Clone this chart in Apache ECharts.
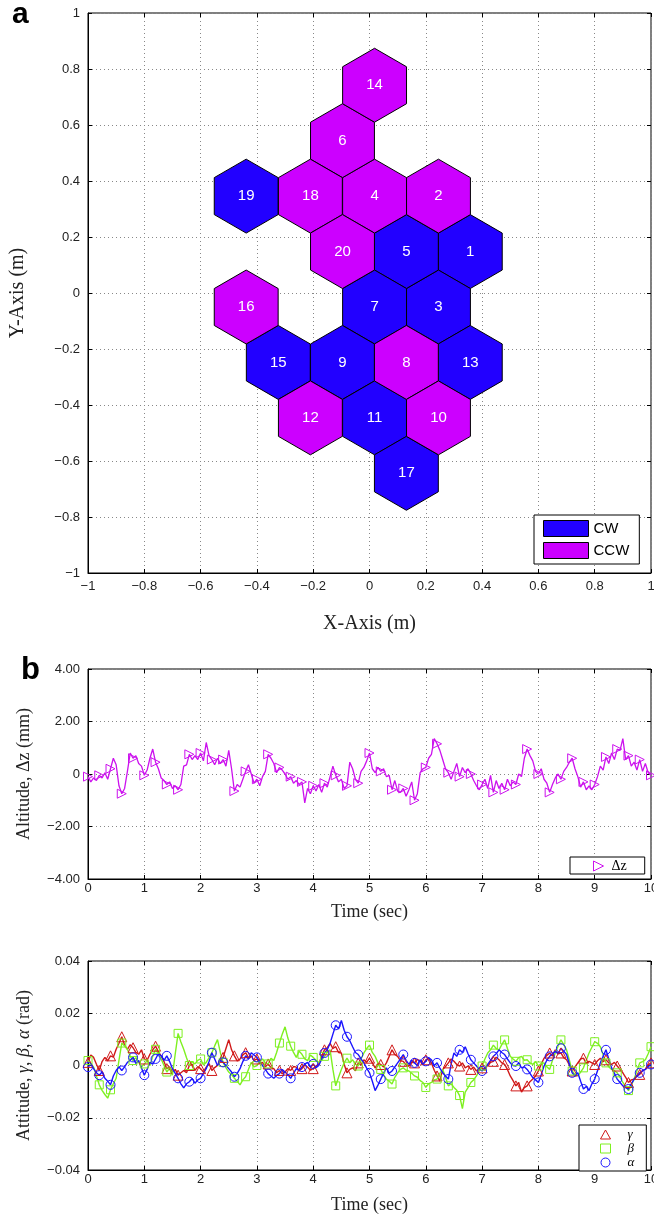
<!DOCTYPE html>
<html>
<head>
<meta charset="utf-8">
<title>Rotor layout, altitude and attitude</title>
<script src="https://cdn.jsdelivr.net/npm/echarts@6/dist/echarts.min.js"></script>
<style>
  html, body { margin: 0; padding: 0; background: #fff; }
  #chart { width: 654px; height: 1215px; }
</style>
</head>
<body>
<div id="chart"></div>
<script>
// Panel a: hexagon centres (m) and spin direction
var hexId  = [1, 2, 3, 4, 5, 6, 7, 8, 9, 10, 11, 12, 13, 14, 15, 16, 17, 18, 19, 20];
var hexX   = [0.358, 0.245, 0.245, 0.018, 0.131, -0.096, 0.018, 0.131, -0.096, 0.245,
              0.018, -0.210, 0.358, 0.018, -0.324, -0.438, 0.131, -0.210, -0.438, -0.096];
var hexY   = [0.148, 0.346, -0.050, 0.346, 0.148, 0.544, -0.050, -0.248, -0.248, -0.446,
              -0.446, -0.446, -0.248, 0.742, -0.248, -0.050, -0.644, 0.346, 0.346, 0.148];
var hexDir = ['CW', 'CCW', 'CW', 'CCW', 'CW', 'CCW', 'CW', 'CCW', 'CW', 'CCW',
              'CW', 'CCW', 'CW', 'CCW', 'CW', 'CCW', 'CW', 'CCW', 'CW', 'CCW'];
var hexRadius = 0.132;   // centre to top vertex (m)
var hexApothem = 0.1135; // centre to flat side (m)

// Panel b/c: samples every 0.05 s from 0 to 10 s
var sampleStep = 0.05;
// altitude error (mm)
var dz = [
  -0.10, -0.30, -0.15, -0.25, -0.05, -0.15, 0.05, -0.20, 0.20, 0.60, 0.35, -0.45, -0.75, -0.55, 0.10, 0.80, 0.60, 0.70, 0.40, 0.30,
  -0.05, 0.15, 0.60, 0.95, 0.45, 0.20, -0.15, -0.25, -0.40, -0.30, -0.55, -0.45, -0.60, -0.40, 0.30, 0.35, 0.75, 0.55, 0.70, 0.55,
  0.80, 0.50, 1.20, 0.70, 0.55, 0.35, 0.60, 0.40, 0.55, 0.30, 0.90, 0.20, -0.65, -0.40, -0.50, -0.20, 0.10, 0.35, 0.00, -0.35,
  -0.20, -0.45, -0.10, 0.10, 0.75, 0.60, 0.40, 0.05, 0.25, 0.15, 0.00, -0.20, -0.10, -0.35, -0.25, -0.40, -0.30, -1.10, -0.55, -0.75,
  -0.45, -0.65, -0.40, -0.70, -0.35, -0.50, -0.10, 0.30, -0.05, -0.30, -0.20, -0.55, -0.45, 0.45, 0.20, -0.20, -0.35, 0.10, 0.25, 0.50,
  0.80, 0.20, 0.05, 0.25, 0.10, 0.20, -0.10, -0.05, -0.60, -0.25, -0.65, -0.70, -0.55, -0.85, -0.60, -0.30, -1.00, -0.75, 0.05, 0.20,
  0.25, 0.60, 0.75, 1.35, 1.15, 0.90, 0.55, 0.20, 0.05, -0.20, 0.10, 0.40, -0.10, 0.25, 0.05, 0.20, 0.00, -0.25, -0.45, -0.60,
  -0.40, -0.20, -0.55, -0.05, -0.70, -0.25, -0.55, -0.35, -0.60, -0.20, -0.45, -0.30, -0.40, 0.00, -0.10, 0.60, 0.95, 0.70, 0.50, 0.10,
  0.00, 0.20, -0.20, -0.35, -0.70, -0.40, -0.15, 0.00, -0.20, 0.10, 0.25, 0.45, 0.60, 0.20, -0.10, -0.50, -0.30, -0.60, -0.45, -0.60,
  -0.40, -0.10, 0.30, 0.15, 0.65, 0.40, 0.80, 0.55, 0.95, 0.90, 1.35, 0.55, 0.70, 0.30, 0.45, 0.15, 0.55, 0.10, 0.40, 0.05,
  -0.05
];
// attitude angles, in 1e-3 rad
var gamma = [
  1.2, 4.0, 3.1, 0.5, -1.9, 1.5, 3.1, 1.8, 3.7, 3.2, 6.2, 8.5, 11.0, 7.8, 6.2, 8.0, 6.8, 5.0, 4.3, 6.0,
  2.5, 2.0, 4.3, 6.0, 7.4, 5.2, 3.7, 1.5, -1.2, -0.5, -2.5, -1.5, -3.7, -2.8, -1.9, -2.8, 0.0, 0.5, -1.9, -0.4,
  -1.2, -2.5, -0.6, 0.8, -1.9, -0.8, 0.0, 1.8, 3.1, 6.5, 9.9, 6.0, 3.7, 1.8, 2.5, 4.0, 4.9, 3.0, 3.7, 1.9,
  2.5, 0.8, 1.2, -0.5, 0.6, -0.8, -1.2, -2.8, -1.9, -3.2, -2.5, -1.2, -1.9, -0.4, -0.6, -2.0, -1.2, 0.2, -0.6, -1.8,
  -1.2, -0.2, 0.6, 3.5, 6.0, 6.8, 8.5, 6.5, 7.2, 5.0, 4.8, 0.5, -2.8, -1.5, -0.9, -2.0, 1.0, 0.2, 2.2, 1.2,
  2.8, 1.0, -0.9, 0.8, 0.4, -0.6, 1.0, 3.5, 6.0, 4.2, 3.5, 1.8, 1.6, 0.2, -0.2, 1.4, 1.0, 2.4, 1.6, 0.4,
  2.2, 2.8, 1.0, -1.8, -4.0, -6.0, -1.5, -0.4, 1.0, 2.5, 1.6, 0.4, -0.2, 1.0, -0.9, -0.2, -1.5, -0.6, -2.1, -1.2,
  -0.9, -1.8, 0.4, 1.2, 1.6, 3.2, 2.2, 1.0, 0.4, -1.5, -4.0, -5.8, -7.8, -6.5, -10.2, -8.5, -7.8, -6.2, -5.2, -4.0,
  -2.1, 0.5, 2.8, 3.8, 4.8, 3.6, 6.0, 4.5, 4.8, 3.0, 2.2, 0.2, -2.1, -0.5, 1.0, 2.5, 2.8, 0.8, 1.6, 1.0,
  0.4, 1.8, 2.8, 1.5, 2.2, 1.0, 0.4, 1.2, -0.2, -1.5, -2.8, -4.5, -6.5, -5.5, -5.2, -4.0, -3.4, -2.0, -1.5, 0.2,
  1.0
];
var beta = [
  1.9, 0.8, -0.6, -4.0, -7.4, -9.5, -11.1, -12.5, -9.3, -7.0, -4.9, 2.0, 8.6, 7.5, 6.2, 3.5, 1.9, 3.0, 1.2, -0.5,
  0.6, 1.8, 0.0, 3.5, 6.2, 4.5, 2.5, 0.0, -2.5, -1.0, -3.7, 4.5, 12.3, 9.0, 6.2, 3.0, 0.0, 1.5, 0.6, 2.0,
  2.5, 0.2, 1.2, 3.0, 4.9, 7.5, 9.9, 5.0, 1.2, -0.8, -2.5, -3.5, -4.9, -6.0, -7.4, -5.5, -4.3, -1.5, 1.2, -0.5,
  0.0, 1.5, 2.5, 1.0, 0.6, 2.8, 1.9, 5.0, 8.6, 12.0, 14.8, 10.5, 7.4, 5.0, 3.1, 5.5, 4.3, 2.5, 1.9, 4.0,
  3.1, 2.0, 1.2, 2.0, 3.5, 5.0, 6.0, -1.5, -7.8, -4.5, -1.5, 1.0, 2.8, 1.0, 2.2, 0.5, -0.2, 2.5, 4.8, 6.5,
  7.8, 5.0, 3.5, 1.0, -1.5, -3.5, -5.2, -6.0, -7.1, -4.5, -2.8, -1.5, -0.9, -1.8, -2.1, -3.0, -4.0, -4.5, -5.8, -6.5,
  -8.4, -7.0, -6.5, -5.5, -5.2, -3.0, -1.5, -4.5, -7.8, -7.0, -8.4, -9.5, -11.5, -16.5, -10.2, -8.5, -6.5, -5.5, -4.0, -2.0,
  -0.2, 2.5, 4.8, 6.0, 7.8, 6.5, 6.0, 8.0, 9.8, 6.5, 3.5, 2.5, 1.6, 3.0, 3.5, 2.0, 2.2, 1.0, 0.4, 1.5,
  -0.2, 0.8, 1.0, -0.5, -1.5, 2.0, 4.8, 7.5, 9.8, 8.0, 6.0, 2.0, -2.1, -3.5, -4.0, -2.5, -0.9, 2.0, 4.8, 7.0,
  9.1, 8.5, 7.2, 4.0, 1.0, -0.5, -1.5, -2.0, -2.8, -4.5, -6.5, -8.0, -9.6, -7.5, -5.2, -2.0, 1.0, 1.5, 2.2, 4.5,
  7.2
];
var alpha = [
  -0.6, 0.5, -1.2, -2.8, -3.7, -2.5, -4.9, -6.0, -7.4, -4.0, -1.9, -0.5, -1.9, -0.5, 1.2, 2.0, 3.1, 0.8, 1.9, -1.0,
  -3.7, -1.5, 1.2, 0.5, 2.5, 4.5, 3.7, 2.0, 3.7, 1.5, -1.2, -3.0, -4.9, -7.0, -8.6, -7.0, -6.2, -5.0, -6.8, -5.5,
  -4.9, -3.0, -1.2, 1.5, 4.9, 2.5, 0.0, 2.0, 1.2, 0.0, -1.2, -2.5, -4.3, -3.0, -1.2, 1.5, 3.7, 2.5, 4.9, 4.0,
  3.1, 1.5, 0.0, -1.5, -3.1, -4.0, -4.9, -3.8, -3.1, -1.5, -2.5, -3.5, -4.9, -3.0, -1.2, -2.0, -0.6, 0.5, 1.2, -0.5,
  0.6, -0.8, 0.0, 2.5, 4.8, 6.0, 8.5, 12.0, 15.4, 14.0, 17.2, 13.5, 11.0, 9.5, 7.2, 5.0, 4.2, 2.5, 1.0, -1.0,
  -2.8, -6.0, -9.6, -7.5, -5.2, -3.0, -0.9, -3.0, -2.1, -0.5, 1.0, 2.5, 4.2, 2.0, 0.4, 2.0, 1.0, 0.0, 2.2, 0.5,
  1.6, 3.0, 2.2, 0.0, 1.0, -1.0, -2.8, -4.0, -5.2, 0.5, 4.8, 3.5, 6.0, 5.0, 7.2, 4.5, 2.2, 1.0, -0.2, -1.5,
  -2.1, -1.0, 0.4, 2.0, 3.5, 4.5, 6.0, 5.0, 4.2, 2.5, 1.0, 0.0, -0.2, 1.0, -0.9, -0.5, -1.5, -3.0, -4.6, -5.5,
  -6.5, -3.5, -0.2, 2.0, 3.5, 4.5, 5.4, 4.5, 6.6, 5.5, 4.2, 0.5, -2.8, -4.0, -2.8, -6.0, -9.0, -8.0, -9.6, -7.0,
  -5.2, -2.0, 1.0, 3.5, 6.0, 2.5, -0.9, -3.0, -5.2, -6.5, -7.8, -8.5, -9.0, -7.0, -5.2, -4.0, -2.8, -2.0, -1.5, -0.5,
  0.4
];

var blueCW = '#2200ff', magentaCCW = '#cc00ff';
var dzColor = '#cc11ee', gammaColor = '#d01818', betaColor = '#7ef020', alphaColor = '#1a14ff';
var sans = '"Liberation Sans", Arial, sans-serif';
var serif = '"Liberation Serif", "Times New Roman", serif';

function pairs(values, scale) {
    return values.map(function (v, i) { return [+(i * sampleStep).toFixed(2), v * scale]; });
}
function every4(type) {
    return function (v, p) { return p.dataIndex % 4 === 0 ? type : 'none'; };
}
function minus(s) { return String(s).replace('-', '\u2212'); }
function hollow(color) { return { color: 'transparent', borderColor: color, borderWidth: 1 }; }

function hexSeries(dir, color) {
    var data = [];
    hexId.forEach(function (id, i) {
        if (hexDir[i] === dir) data.push([hexX[i], hexY[i], id]);
    });
    var corners = [[0, hexRadius], [hexApothem, hexRadius / 2], [hexApothem, -hexRadius / 2],
                   [0, -hexRadius], [-hexApothem, -hexRadius / 2], [-hexApothem, hexRadius / 2]];
    return {
        name: dir, type: 'custom', xAxisIndex: 0, yAxisIndex: 0,
        encode: { x: 0, y: 1 },
        itemStyle: { color: color, borderColor: '#000', borderWidth: 1 },
        data: data,
        renderItem: function (params, api) {
            var cx = api.value(0), cy = api.value(1);
            var pts = corners.map(function (c) { return api.coord([cx + c[0], cy + c[1]]); });
            var ctr = api.coord([cx, cy]);
            return { type: 'group', children: [
                { type: 'polygon', shape: { points: pts }, style: { fill: color, stroke: '#000', lineWidth: 1 } },
                { type: 'text', x: ctr[0], y: ctr[1], style: { text: String(api.value(2)), fill: '#fff',
                  font: '15px ' + sans, align: 'center', verticalAlign: 'middle' } }
            ]};
        }
    };
}

var tickStyle = { show: true, inside: true, length: 4, lineStyle: { color: '#000' } };
var lineBlack = { show: true, onZero: false, lineStyle: { color: '#000', width: 1 } };
var dotted = { show: true, lineStyle: { color: '#888', type: [1, 3], width: 1 } };
var lbl = { color: '#222', fontSize: 13, fontFamily: sans };

function mainAxis(grid, min, max, step, fmt, margin, extra) {
    var a = { type: 'value', gridIndex: grid, min: min, max: max, interval: step,
        axisLine: lineBlack, axisTick: tickStyle, splitLine: dotted,
        axisLabel: Object.assign({ formatter: fmt, margin: margin }, lbl) };
    return Object.assign(a, extra || {});
}
function mirrorAxis(grid, min, max, step, pos) {
    return { type: 'value', gridIndex: grid, min: min, max: max, interval: step, position: pos,
        axisLine: { show: false, onZero: false }, axisTick: tickStyle, splitLine: { show: false }, axisLabel: { show: false } };
}
var fmtA = function (v) { return minus(parseFloat(v.toFixed(1))); };
var fmtInt = function (v) { return String(Math.round(v)); };
var fmtB = function (v) { return v === 0 ? '0' : minus(v.toFixed(2)); };
var fmtC = function (v) { return Math.abs(v) < 1e-9 ? '0' : minus(v.toFixed(2)); };
var nameStyle = function (size) { return { fontFamily: serif, fontSize: size, color: '#222' }; };
function plotGrid(top, height) {
    return { left: 88, top: top, width: 563, height: height, show: true, borderColor: '#000', borderWidth: 1,
             outerBoundsMode: 'none', containLabel: false };
}
function lineSeries(name, axis, values, scale, marker, size, color, width, rotate) {
    return { name: name, type: 'line', xAxisIndex: axis, yAxisIndex: axis, data: pairs(values, scale),
        symbol: every4(marker), symbolSize: size, symbolRotate: rotate || 0,
        lineStyle: { color: color, width: width }, itemStyle: hollow(color) };
}

var chart = echarts.init(document.getElementById('chart'));
var option = {
    animation: false,
    backgroundColor: '#fff',
    grid: [plotGrid(13, 560), plotGrid(669, 210), plotGrid(961, 209)],
    xAxis: [
        mainAxis(0, -1, 1, 0.2, fmtA, 7, { name: 'X-Axis (m)', nameLocation: 'middle', nameGap: 41, nameTextStyle: nameStyle(20) }),
        mirrorAxis(0, -1, 1, 0.2, 'top'),
        mainAxis(1, 0, 10, 1, fmtInt, 3, { name: 'Time (sec)', nameLocation: 'middle', nameGap: 24, nameTextStyle: nameStyle(18) }),
        mirrorAxis(1, 0, 10, 1, 'top'),
        mainAxis(2, 0, 10, 1, fmtInt, 3, { name: 'Time (sec)', nameLocation: 'middle', nameGap: 26, nameTextStyle: nameStyle(18) }),
        mirrorAxis(2, 0, 10, 1, 'top')
    ],
    yAxis: [
        mainAxis(0, -1, 1, 0.2, fmtA, 8, { name: 'Y-Axis (m)', nameLocation: 'middle', nameGap: 60, nameTextStyle: nameStyle(20) }),
        mirrorAxis(0, -1, 1, 0.2, 'right'),
        mainAxis(1, -4, 4, 2, fmtB, 8, { name: 'Altitude, \u0394z (mm)', nameLocation: 'middle', nameGap: 55, nameTextStyle: nameStyle(18) }),
        mirrorAxis(1, -4, 4, 2, 'right'),
        mainAxis(2, -0.04, 0.04, 0.02, fmtC, 8, { name: 'Attitude, {i|\u03b3}, {i|\u03b2}, {i|\u03b1} (rad)', nameLocation: 'middle', nameGap: 55,
            nameTextStyle: Object.assign(nameStyle(18), { rich: { i: { fontFamily: serif, fontSize: 18, fontStyle: 'italic', color: '#222' } } }) }),
        mirrorAxis(2, -0.04, 0.04, 0.02, 'right')
    ],
    legend: [
        { data: ['CW', 'CCW'], orient: 'vertical', left: 534, top: 515, padding: [5, 10, 5, 9], itemGap: 5,
          itemWidth: 45, itemHeight: 16, icon: 'rect', backgroundColor: '#fff', borderColor: '#000', borderWidth: 1,
          itemStyle: { borderColor: '#000', borderWidth: 1 }, selectedMode: false,
          textStyle: { fontSize: 15, fontFamily: sans, color: '#000' } },
        { data: [{ name: '\u0394z', icon: 'path://M0,0L10,5L0,10Z', itemStyle: hollow(dzColor) }],
          left: 570, top: 857, padding: [2, 18, 1, 23], itemWidth: 10, itemHeight: 10, backgroundColor: '#fff',
          borderColor: '#000', borderWidth: 1, selectedMode: false,
          textStyle: { fontSize: 14, fontFamily: serif, color: '#000', lineHeight: 12, padding: [0, 0, 0, 3] } },
        { data: [{ name: '\u03b3', icon: 'triangle', itemStyle: hollow(gammaColor) },
                 { name: '\u03b2', icon: 'rect', itemStyle: hollow(betaColor) },
                 { name: '\u03b1', icon: 'circle', itemStyle: hollow(alphaColor) }],
          orient: 'vertical', left: 579, top: 1125, padding: [3, 12, 2, 21], itemWidth: 10, itemHeight: 9, itemGap: 1,
          backgroundColor: '#fff', borderColor: '#000', borderWidth: 1, selectedMode: false,
          textStyle: { fontSize: 13, fontFamily: serif, fontStyle: 'italic', color: '#000', lineHeight: 11, padding: [0, 0, 0, 12] } }
    ],
    graphic: [
        { type: 'text', left: 12, top: 0, style: { text: 'a', font: 'bold 30px ' + sans, fill: '#000' } },
        { type: 'text', left: 21, top: 655, style: { text: 'b', font: 'bold 31px ' + sans, fill: '#000' } }
    ],
    series: [
        hexSeries('CW', blueCW),
        hexSeries('CCW', magentaCCW),
        lineSeries('\u0394z', 2, dz, 1, 'triangle', 9, dzColor, 1.3, -90),
        lineSeries('\u03b3', 4, gamma, 0.001, 'triangle', 10, gammaColor, 1.4),
        lineSeries('\u03b2', 4, beta, 0.001, 'rect', 8, betaColor, 1.4),
        lineSeries('\u03b1', 4, alpha, 0.001, 'circle', 9, alphaColor, 1.4)
    ]
};
chart.setOption(option);
</script>
</body>
</html>
